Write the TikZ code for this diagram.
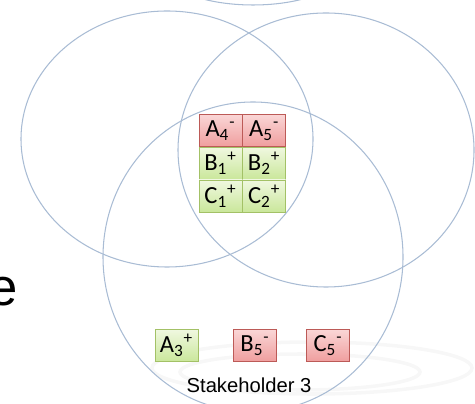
\documentclass[tikz,border=0pt]{standalone}
\usepackage{fontspec}
\setmainfont{Carlito}
\newfontfamily\captionfont{Liberation Sans}
\usetikzlibrary{positioning}
\definecolor{VennBlue}{HTML}{A9BCD4}
\definecolor{NegTop}{HTML}{FAD6D6}
\definecolor{NegBottom}{HTML}{EF9E9E}
\definecolor{NegLine}{HTML}{BC5A57}
\definecolor{PosTop}{HTML}{F0F8E0}
\definecolor{PosBottom}{HTML}{CAE79B}
\definecolor{PosLine}{HTML}{A3C166}

\begin{document}
\begin{tikzpicture}[x=0.02cm, y=-0.02cm,
    venn/.style={draw=VennBlue, line width=0.6pt},
    negbox/.style={draw=NegLine, top color=NegTop, bottom color=NegBottom, minimum width=0.86cm, minimum height=0.64cm, inner sep=0pt, font=\fontsize{14}{16}\selectfont},
    posbox/.style={negbox, draw=PosLine, top color=PosTop, bottom color=PosBottom}]
    \useasboundingbox (0,0) rectangle (475,404);

    % Faint reflection under the label
    \draw[black!3, line width=2pt] (312,368) ellipse [x radius=160, y radius=26];
    \draw[black!3, line width=2pt] (300,372) ellipse [x radius=120, y radius=18];

    % Circles
    \draw[venn] (253,-35) ellipse [x radius=95, y radius=40];
    \draw[venn] (167,139) ellipse [x radius=146, y radius=128];
    \draw[venn] (326,150) ellipse [x radius=148, y radius=137];
    \draw[venn] (253,257) ellipse [x radius=150, y radius=155];

    % Cut-off title letter
    \node[font=\captionfont\fontsize{30}{36}\selectfont, anchor=base east, inner sep=0pt] (cut) at (18,305) {e};

    % Shared alternatives
    \node[negbox] (a4) at (220.5,130.5) {A\textsubscript{4}\textsuperscript{-}};
    \node[negbox, right=0pt of a4] (a5) {A\textsubscript{5}\textsuperscript{-}};
    \node[posbox, below=0pt of a4] (b1) {B\textsubscript{1}\textsuperscript{+}};
    \node[posbox, right=0pt of b1] (b2) {B\textsubscript{2}\textsuperscript{+}};
    \node[posbox, below=0pt of b1] (c1) {C\textsubscript{1}\textsuperscript{+}};
    \node[posbox, right=0pt of c1] (c2) {C\textsubscript{2}\textsuperscript{+}};

    % Stakeholder 3 only
    \node[posbox] (a3) at (176.5,345.5) {A\textsubscript{3}\textsuperscript{+}};
    \node[negbox] (b5) at (255,345.5) {B\textsubscript{5}\textsuperscript{-}};
    \node[negbox] (c5) at (328,345.5) {C\textsubscript{5}\textsuperscript{-}};

    % Label
    \node[font=\captionfont\fontsize{11.5}{14}\selectfont, anchor=base, inner sep=0pt] (stake3) at (249,392) {Stakeholder 3};
\end{tikzpicture}
\end{document}
